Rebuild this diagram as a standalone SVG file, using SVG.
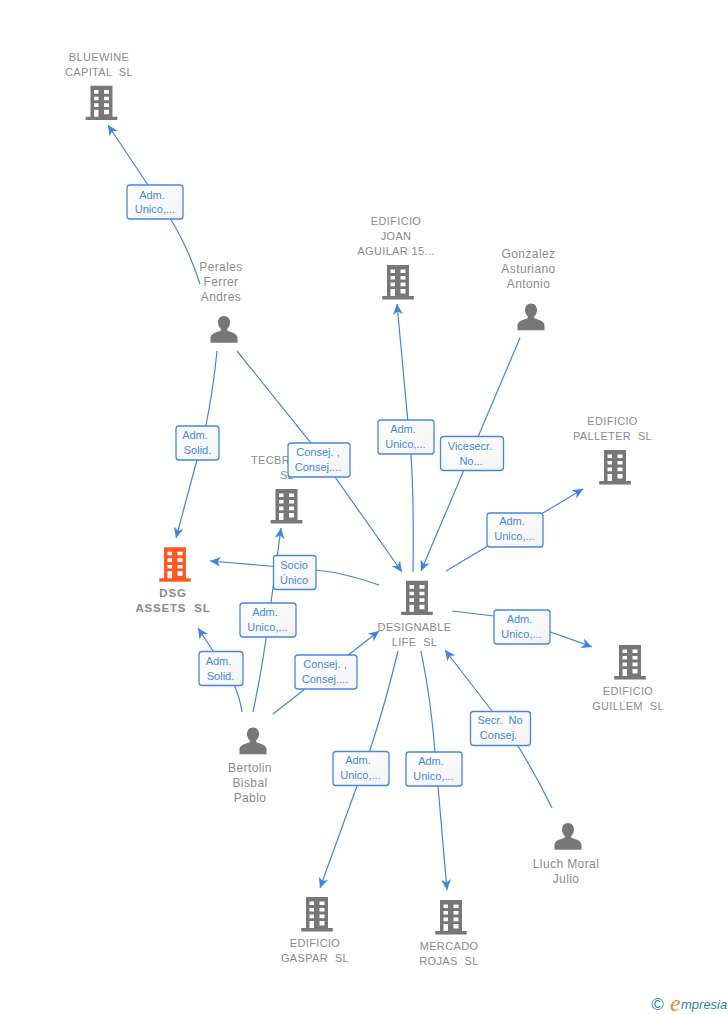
<svg xmlns="http://www.w3.org/2000/svg" width="728" height="1015" viewBox="0 0 728 1015">
<style>
text{font-family:"Liberation Sans",Arial,sans-serif;white-space:pre}
.n{font-size:11px;letter-spacing:.35px;fill:#8a8a8a;text-anchor:middle}
.p{font-size:12px;letter-spacing:.4px;fill:#8a8a8a;text-anchor:middle}
.b{font-size:11.500px;font-weight:bold;letter-spacing:.8px;fill:#8a8a8a;text-anchor:middle}
.l{font-size:11px;fill:#4488de;text-anchor:middle}
.c{fill:none;stroke:#3f85dd;stroke-width:1.2;marker-end:url(#a)}
.r{fill:url(#g);stroke:#4488de;stroke-width:1.3}
</style>
<defs>
<linearGradient id="g" x1="0" y1="0" x2="1" y2="1"><stop offset="0" stop-color="#fff"/><stop offset="1" stop-color="#f3f3f3"/></linearGradient>
<marker id="a" markerUnits="userSpaceOnUse" markerWidth="12" markerHeight="12" refX="10.5" refY="5" orient="auto"><path d="M10.5,5 L0,0 L3,5 L0,10 z" fill="#3f85dd"/></marker>
<path id="bd" fill-rule="evenodd" d="M-11,0H11V31H15.8V34.400H-15.800V31H-11ZM-7.500,4.400V8H-3V4.400ZM2.500,4.400V8H7.500V4.400ZM-7.500,11V14.600H-3V11ZM2.500,11V14.600H7.500V11ZM-7.500,17.600V21.200H-3V17.600ZM2.500,17.600V21.200H7.500V17.600ZM-7.500,24V31H-3V24ZM2.500,24V28.600H7.500V24Z"/>
<path id="pr" d="M0,0C3.600,0 6,2.800 6,6.500C6,9.500 4.700,11.600 3.200,12.800V14.700C7,16 13.500,17.300 13.500,22V26.700H-13.500V22C-13.500,17.300 -7,16 -3.200,14.700V12.800C-4.700,11.600 -6,9.500 -6,6.500C-6,2.800 -3.600,0 0,0Z"/>
</defs>
<rect width="728" height="1015" fill="#fff"/>
<g id="node-bluewine"><use href="#bd" x="101.500" y="85.700" fill="#777"/><text class="n" x="99" y="61">BLUEWINE</text><text class="n" x="99" y="76">CAPITAL  SL</text></g>
<g id="node-perales"><use href="#pr" x="224" y="316" fill="#777"/><text class="p" x="221" y="271">Perales</text><text class="p" x="221" y="286">Ferrer</text><text class="p" x="221" y="301">Andres</text></g>
<g id="node-joan"><use href="#bd" x="398" y="265" fill="#777"/><text class="n" x="396" y="225">EDIFICIO</text><text class="n" x="396" y="240">JOAN</text><text class="n" x="396" y="255">AGUILAR 15...</text></g>
<g id="node-gonzalez"><use href="#pr" x="531" y="303.500" fill="#777"/><text class="p" x="528.500" y="258">Gonzalez</text><text class="p" x="528.500" y="273">Asturiano</text><text class="p" x="528.500" y="288">Antonio</text></g>
<g id="node-palleter"><use href="#bd" x="615" y="450" fill="#777"/><text class="n" x="612.500" y="425">EDIFICIO</text><text class="n" x="612.500" y="440">PALLETER  SL</text></g>
<g id="node-tecbr"><use href="#bd" x="286.500" y="489" fill="#777"/><text class="n" x="251" y="464" style="text-anchor:start">TECBR</text><text class="n" x="287" y="479">SL</text></g>
<g id="node-dsg"><use href="#bd" x="175" y="547.300" fill="#ff5a26"/><text class="b" x="173" y="597">DSG</text><text class="b" x="173" y="612">ASSETS  SL</text></g>
<g id="node-designable"><use href="#bd" x="417" y="580.700" fill="#777"/><text class="n" x="414.500" y="631">DESIGNABLE</text><text class="n" x="414.500" y="646">LIFE  SL</text></g>
<g id="node-guillem"><use href="#bd" x="630" y="645" fill="#777"/><text class="n" x="628" y="695">EDIFICIO</text><text class="n" x="628" y="710">GUILLEM  SL</text></g>
<g id="node-bertolin"><use href="#pr" x="253" y="727.500" fill="#777"/><text class="p" x="250" y="772">Bertolin</text><text class="p" x="250" y="787">Bisbal</text><text class="p" x="250" y="802">Pablo</text></g>
<g id="node-lluch"><use href="#pr" x="568" y="823" fill="#777"/><text class="p" x="566" y="868">Lluch Moral</text><text class="p" x="566" y="883">Julio</text></g>
<g id="node-gaspar"><use href="#bd" x="317" y="897" fill="#777"/><text class="n" x="315" y="947">EDIFICIO</text><text class="n" x="315" y="962">GASPAR  SL</text></g>
<g id="node-mercado"><use href="#bd" x="451" y="900" fill="#777"/><text class="n" x="449" y="950">MERCADO</text><text class="n" x="449" y="965">ROJAS  SL</text></g>
<g id="connectors">
<path class="c" d="M200,284Q188,247 171,220L148,185L108,125"/>
<path class="c" d="M217,351Q213,392 205,430L176,538"/>
<path class="c" d="M237,351L311,443L402,572"/>
<path class="c" d="M413,572Q414,500 411,455L397,304"/>
<path class="c" d="M520,338L421,571"/>
<path class="c" d="M446,571L583,489"/>
<path class="c" d="M452,611L494,616Q525,622 592,647"/>
<path class="c" d="M398,651Q385,705 370,750L320,888"/>
<path class="c" d="M421,651Q431,700 435,752L447,890"/>
<path class="c" d="M552,808Q537,777 518,746Q505,728 492,711L445,650"/>
<path class="c" d="M273,714L379,631"/>
<path class="c" d="M253,712Q263,665 270,610L281,528"/>
<path class="c" d="M379,585Q345,573 316,570L210,561"/>
<path class="c" d="M242,712Q240,697 232,680L198,628"/>
<g><rect class="r" x="127" y="185" width="56" height="34" rx="3"/><text class="l" x="152" y="199">Adm.</text><text class="l" x="155" y="213">Unico,...</text></g>
<g><rect class="r" x="176" y="426" width="43" height="34" rx="3"/><text class="l" x="195" y="439">Adm.</text><text class="l" x="197.500" y="454">Solid.</text></g>
<g><rect class="r" x="288" y="443" width="62" height="34" rx="3"/><text class="l" x="318" y="456">Consej. ,</text><text class="l" x="318" y="471">Consej....</text></g>
<g><rect class="r" x="273.500" y="555.500" width="42.500" height="34" rx="3"/><text class="l" x="294" y="569">Socio</text><text class="l" x="294" y="584">Único</text></g>
<g><rect class="r" x="240" y="603" width="56" height="34" rx="3"/><text class="l" x="265" y="616">Adm.</text><text class="l" x="267.500" y="631">Unico,...</text></g>
<g><rect class="r" x="199" y="651.500" width="44" height="34" rx="3"/><text class="l" x="218.500" y="665">Adm.</text><text class="l" x="220.500" y="680">Solid.</text></g>
<g><rect class="r" x="295" y="655" width="62" height="34" rx="3"/><text class="l" x="325" y="668">Consej. ,</text><text class="l" x="325" y="683">Consej....</text></g>
<g><rect class="r" x="378" y="420" width="56" height="34" rx="3"/><text class="l" x="403" y="433">Adm.</text><text class="l" x="405.500" y="448">Unico,...</text></g>
<g><rect class="r" x="440.500" y="436.500" width="63" height="34" rx="3"/><text class="l" x="470" y="450">Vicesecr.</text><text class="l" x="471" y="465">No...</text></g>
<g><rect class="r" x="487" y="513" width="56" height="34" rx="3"/><text class="l" x="512" y="525">Adm.</text><text class="l" x="514.500" y="540">Unico,...</text></g>
<g><rect class="r" x="494" y="610" width="56" height="34" rx="3"/><text class="l" x="519.500" y="623">Adm.</text><text class="l" x="521.500" y="638">Unico,...</text></g>
<g><rect class="r" x="470.500" y="711.500" width="60" height="34" rx="3"/><text class="l" x="500" y="724">Secr.  No</text><text class="l" x="498.500" y="739">Consej.</text></g>
<g><rect class="r" x="333" y="751.500" width="56" height="34" rx="3"/><text class="l" x="358" y="764">Adm.</text><text class="l" x="360.500" y="779">Unico,...</text></g>
<g><rect class="r" x="406" y="752" width="56" height="34" rx="3"/><text class="l" x="431" y="765">Adm.</text><text class="l" x="433.500" y="780">Unico,...</text></g>
</g>
<g id="logo">
<text x="657.500" y="1010" style="font-size:17px;fill:#2f7f9f;text-anchor:middle">©</text>
<text x="670" y="1011" style="font-family:'Liberation Serif',serif;font-style:italic;font-size:24px;fill:#f08a1d">e</text>
<text x="681" y="1009" style="font-style:italic;font-size:13px;fill:#2f7f9f">mpresia</text>
</g>
</svg>
